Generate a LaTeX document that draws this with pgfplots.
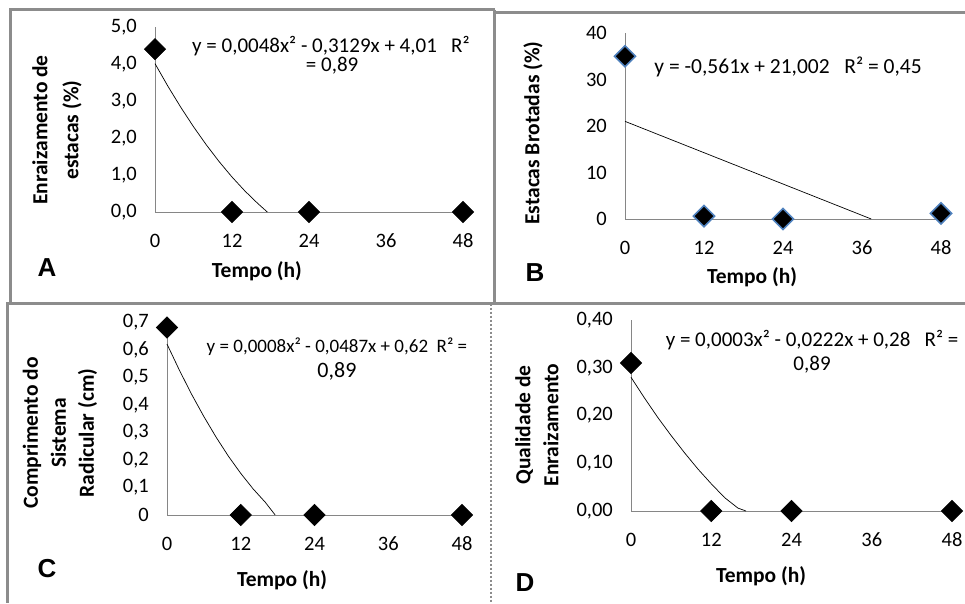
\documentclass[border=0pt]{standalone}
\usepackage{fontspec}
\setmainfont{Carlito}
\newfontfamily\letterfont{Liberation Sans}
\usepackage{pgfplots}
\pgfplotsset{compat=1.18}

\definecolor{framegray}{HTML}{8C8C8C}
\definecolor{axgray}{HTML}{868686}
\definecolor{mkblue}{HTML}{4F81BD}

\pgfplotsset{
  panel/.style={
    scale only axis, anchor=south west, clip=false,
    axis lines=left, axis line style={draw=axgray, line width=1pt, -},
    major tick length=0pt, tick style={draw=none},
    xmin=0, xmax=48, xtick={0,12,24,36,48}, ymin=0,
    /pgf/number format/assume math mode=true,
    tick label style={font=\fontsize{20.5}{24}\selectfont},
    xticklabel style={inner sep=0pt, anchor=center, yshift=-29pt},
    yticklabel style={inner sep=0pt, anchor=east, xshift=-18pt},
    label style={font=\bfseries\fontsize{21.5}{25}\selectfont},
    xlabel style={anchor=center},
    ylabel style={anchor=center, rotate=0, align=center},
  },
  pts/.style={only marks, mark=square*, mark size=7.5pt,
    mark options={rotate=45, fill=black, draw=black, line width=0.6pt}},
  trend/.style={no markers, black, line width=0.7pt},
}

\newcommand{\eqfont}[1]{\fontsize{#1}{#1}\selectfont}

\begin{document}
\begin{tikzpicture}[x=1pt,y=1pt]
\useasboundingbox (0,0) rectangle (965,603);

% A
\begin{axis}[panel, at={(155pt,391pt)}, width=308pt, height=185pt,
  ymax=5, ytick={0,1,2,3,4,5},
  yticklabel style={/pgf/number format/.cd, use comma, fixed, fixed zerofill, precision=1},
  xlabel={Tempo (h)}, xlabel style={at={(axis description cs:0.331,-0.319)}},
  ylabel={Enraizamento de\\[6pt]estacas (\%)}, ylabel style={at={(axis description cs:-0.318,0.443)}}]
\addplot[trend] coordinates {(0,4.01) (2,3.403) (4,2.835) (6,2.305) (8,1.814) (10,1.361) (12,0.946) (14,0.570) (16,0.233) (17.5,0)};
\addplot[pts] coordinates {(0,4.4) (12,0) (24,0) (48,0)};
\node[font=\eqfont{21}] at (axis description cs:0.571,0.897) {y = 0,0048x² - 0,3129x + 4,01 \ \ R²};
\node[font=\eqfont{21}] at (axis description cs:0.575,0.790) {= 0,89};
\node[font=\letterfont\bfseries\fontsize{26}{26}\selectfont] at (axis description cs:-0.351,-0.303) {A};
\end{axis}

% B
\begin{axis}[panel, at={(625pt,384pt)}, width=316pt, height=186pt,
  ymax=40, ytick={0,10,20,30,40},
  xlabel={Tempo (h)}, xlabel style={at={(axis description cs:0.402,-0.312)}},
  ylabel={Estacas Brotadas (\%)}, ylabel style={at={(axis description cs:-0.291,0.462)}}]
\addplot[trend] coordinates {(0,21.0) (37.4,0)};
\addplot[pts, mark options={rotate=45, fill=black, draw=mkblue, line width=1.6pt}] coordinates {(0,35) (12,0.6) (24,0) (48,1.2)};
\node[font=\eqfont{21.5}] at (axis description cs:0.516,0.817) {y = -0,561x + 21,002 \ \ R² = 0,45};
\node[font=\letterfont\bfseries\fontsize{26}{26}\selectfont] at (axis description cs:-0.285,-0.290) {B};
\end{axis}

% C
\begin{axis}[panel, at={(167pt,88pt)}, width=295pt, height=193pt,
  ymax=0.7, ytick={0,0.1,0.2,0.3,0.4,0.5,0.6,0.7},
  yticklabel style={/pgf/number format/.cd, use comma, fixed, precision=1},
  xlabel={Tempo (h)}, xlabel style={at={(axis description cs:0.390,-0.337)}},
  ylabel={Comprimento do\\[3pt]Sistema\\[3pt]Radicular (cm)}, ylabel style={at={(axis description cs:-0.363,0.425)}}]
\addplot[trend] coordinates {(0,0.62) (2,0.526) (4,0.438) (6,0.357) (8,0.282) (10,0.213) (12,0.151) (14,0.095) (16,0.046) (17.6,0)};
\addplot[pts] coordinates {(0,0.68) (12,0) (24,0) (48,0)};
\node[font=\eqfont{19}] at (axis description cs:0.576,0.870) {y = 0,0008x² - 0,0487x + 0,62 \ R² =};
\node[font=\eqfont{22}] at (axis description cs:0.576,0.746) {0,89};
\node[font=\letterfont\bfseries\fontsize{26}{26}\selectfont] at (axis description cs:-0.407,-0.275) {C};
\end{axis}

% D
\begin{axis}[panel, at={(631pt,92pt)}, width=321pt, height=191pt,
  ymax=0.4, ytick={0,0.1,0.2,0.3,0.4},
  yticklabel style={/pgf/number format/.cd, use comma, fixed, fixed zerofill, precision=2},
  xlabel={Tempo (h)}, xlabel style={at={(axis description cs:0.405,-0.340)}},
  ylabel={Qualidade de\\[3pt]Enraizamento}, ylabel style={at={(axis description cs:-0.293,0.450)}}]
\addplot[trend] coordinates {(0,0.28) (2,0.237) (4,0.196) (6,0.158) (8,0.122) (10,0.088) (12,0.057) (14,0.028) (16,0.006) (17.2,0)};
\addplot[pts] coordinates {(0,0.31) (12,0) (24,0) (48,0)};
\node[font=\eqfont{21}] at (axis description cs:0.564,0.895) {y = 0,0003x² - 0,0222x + 0,28 \ \ R² =};
\node[font=\eqfont{21}] at (axis description cs:0.564,0.764) {0,89};
\node[font=\letterfont\bfseries\fontsize{26}{26}\selectfont] at (axis description cs:-0.330,-0.372) {D};
\end{axis}

% panel frames
\begin{scope}[draw=framegray, line width=3pt]
\draw (9,593) -- (494.5,593);
\draw (10.5,593) -- (10.5,300);
\draw (494.5,593) -- (494.5,300);
\draw (494.5,590.5) -- (965,590.5);
\draw (6,299.5) -- (965,299.5);
\draw (7.5,299.5) -- (7.5,0);
\draw[line width=2pt, dotted] (491,299.5) -- (491,0);
\end{scope}
\end{tikzpicture}
\end{document}
